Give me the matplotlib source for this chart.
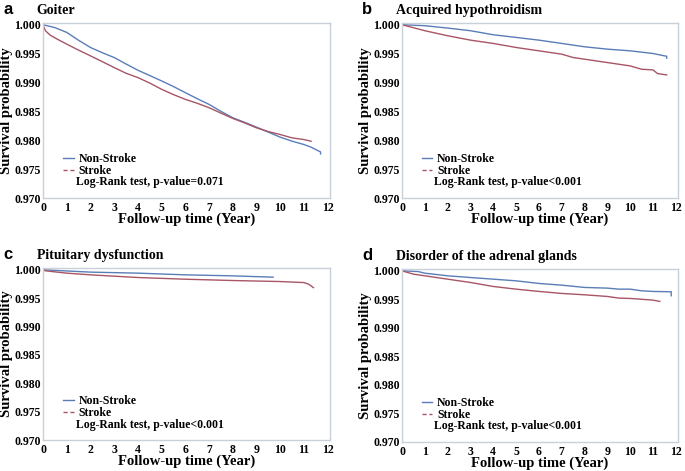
import matplotlib
matplotlib.use('Agg')
import matplotlib.pyplot as plt
from matplotlib.lines import Line2D

# panel a - Goiter
a_ns_t = [0, 0.5, 1, 1.5, 2, 2.5, 3, 3.5, 4, 4.5, 5, 5.5, 6, 6.5, 7, 7.5, 8, 8.5, 9, 9.5, 10, 10.5, 11, 11.3, 11.5, 11.7, 11.7]
a_ns_s = [1.0, 0.9995, 0.99867, 0.9973, 0.99606, 0.99515, 0.99432, 0.9932, 0.99212, 0.9912, 0.99027, 0.9893, 0.98824,
          0.9872, 0.98621, 0.9850, 0.98389, 0.9831, 0.98227, 0.9814, 0.98053, 0.97984, 0.97926, 0.9788, 0.97839, 0.97798, 0.97764]
a_st_t = [0, 0.1, 0.3, 0.6, 1, 1.5, 2, 2.5, 3, 3.5, 4, 4.5, 5, 5.5, 6, 6.5, 7, 7.5, 8, 8.5, 9, 9.5, 10, 10.5, 11, 11.3]
a_st_s = [1.0, 0.99896, 0.9982, 0.9975, 0.99664, 0.9956, 0.99461, 0.9936, 0.99258, 0.9916, 0.99085, 0.9899, 0.98882,
          0.9879, 0.98708, 0.9864, 0.98563, 0.9847, 0.98378, 0.9830, 0.98215, 0.9815, 0.98099, 0.98041, 0.98012, 0.97983]

# panel b - Acquired hypothroidism
b_ns_t = [0, 1, 2, 3, 4, 5, 6, 7, 8, 9, 10, 11, 11.5, 11.6, 11.6]
b_ns_s = [1.0, 0.99983, 0.99942, 0.99896, 0.99826, 0.9978, 0.99733, 0.99676, 0.99618, 0.99577, 0.99548, 0.99502,
          0.99461, 0.99455, 0.99421]
b_st_t = [0, 1, 2, 3, 4, 5, 6, 7, 7.5, 8, 9, 10, 10.5, 11, 11.2, 11.6]
b_st_s = [1.0, 0.99896, 0.99809, 0.99733, 0.99676, 0.99606, 0.99548, 0.9949, 0.99432, 0.99403, 0.99345, 0.99287,
          0.99229, 0.99218, 0.99154, 0.99131]

# panel c - Pituitary dysfunction
c_ns_t = [0, 2, 4, 6, 8, 9.7]
c_ns_s = [1.0, 0.99959, 0.99941, 0.99911, 0.99893, 0.9987]
c_st_t = [0, 0.1, 1, 2, 4, 6, 8, 10, 11, 11.2, 11.4]
c_st_s = [1.0, 0.99982, 0.99941, 0.99911, 0.99864, 0.99834, 0.99811, 0.99793, 0.99775, 0.99746, 0.99686]

# panel d - Disorder of the adrenal glands
d_ns_t = [0, 0.7, 1, 2, 3, 4, 5, 6, 7, 8, 9, 9.5, 10, 10.5, 11, 11.8, 11.8]
d_ns_s = [1.0, 0.99988, 0.99959, 0.99913, 0.99883, 0.99854, 0.99825, 0.99779, 0.99749, 0.99709, 0.99697, 0.99679,
          0.99679, 0.9965, 0.99639, 0.99633, 0.99563]
d_st_t = [0, 0.5, 1, 2, 3, 4, 5, 6, 7, 8, 9, 9.5, 10, 11, 11.3]
d_st_s = [1.0, 0.99942, 0.99913, 0.99854, 0.99796, 0.99726, 0.99679, 0.99639, 0.99604, 0.9958, 0.99551, 0.99522,
          0.99516, 0.99487, 0.99464]

letters = ['a', 'b', 'c', 'd']
titles = ['Goiter', 'Acquired hypothroidism', 'Pituitary dysfunction', 'Disorder of the adrenal glands']
pvals = ['Log-Rank test, p-value=0.071', 'Log-Rank test, p-value<0.001',
         'Log-Rank test, p-value<0.001', 'Log-Rank test, p-value<0.001']
series = [(a_ns_t, a_ns_s, a_st_t, a_st_s), (b_ns_t, b_ns_s, b_st_t, b_st_s),
          (c_ns_t, c_ns_s, c_st_t, c_st_s), (d_ns_t, d_ns_s, d_st_t, d_st_s)]

y_ticks = [0.970, 0.975, 0.980, 0.985, 0.990, 0.995, 1.000]
x_ticks = list(range(13))

blue = '#5a7db8'
red = '#a85565'
spine_col = '#c8d0da'
serif = 'Liberation Serif'

# axes rects in figure fraction: left, bottom, width, height
rects = [[0.0628, 0.5796, 0.419, 0.3716],
         [0.5869, 0.5796, 0.403, 0.3716],
         [0.0628, 0.0658, 0.419, 0.365],
         [0.5869, 0.0616, 0.403, 0.367]]

fig = plt.figure(figsize=(6.85, 4.71), dpi=100)

for i in range(4):
    ax = fig.add_axes(rects[i])
    ns_t, ns_s, st_t, st_s = series[i]
    ax.plot(ns_t, ns_s, color=blue, linewidth=1.0)
    ax.plot(st_t, st_s, color=red, linewidth=1.0)

    ax.set_xlim(0, 12.1)
    ax.set_ylim(0.970, 1.0003)
    ax.set_xticks(x_ticks)
    ax.set_yticks(y_ticks)
    ax.set_yticklabels(['{:.3f}'.format(v) for v in y_ticks])
    ax.tick_params(axis='x', length=0, pad=3)
    ax.tick_params(axis='y', length=0, pad=1.5)
    for lab in ax.get_xticklabels() + ax.get_yticklabels():
        lab.set_fontfamily(serif)
        lab.set_fontweight('bold')
        lab.set_fontsize(8.5)
    for sp in ax.spines.values():
        sp.set_color(spine_col)
        sp.set_linewidth(1.0)

    ax.set_xlabel('Follow-up time (Year)', fontfamily=serif, fontweight='bold', fontsize=10.5, labelpad=-1)
    ax.set_ylabel('Survival probability', fontfamily=serif, fontweight='bold', fontsize=10.5, labelpad=1)

    handles = [Line2D([], [], color=blue, linewidth=1.0),
               Line2D([], [], color=red, linewidth=1.0, linestyle=(0, (3, 2)))]
    ax.legend(handles, ['Non-Stroke', 'Stroke'], loc='lower left', bbox_to_anchor=(0.05, 0.085),
              frameon=False, handlelength=0.9, handletextpad=0.4, labelspacing=0.0, borderpad=0,
              prop={'family': serif, 'weight': 'bold', 'size': 8.5})
    ax.text(0.115, 0.09, pvals[i], transform=ax.transAxes, fontfamily=serif, fontweight='bold',
            fontsize=8.5, va='center', ha='left')

    pos = ax.get_position()
    fig.text(pos.x0 - 0.009, pos.y1 + 0.012, titles[i], fontfamily=serif, fontweight='bold',
             fontsize=10, ha='left', va='bottom')
    fig.text(pos.x0 - 0.058, pos.y1 + 0.012, letters[i], fontfamily='Liberation Sans', fontweight='bold',
             fontsize=12, ha='left', va='bottom')

fig.savefig('out.png', dpi=100)
